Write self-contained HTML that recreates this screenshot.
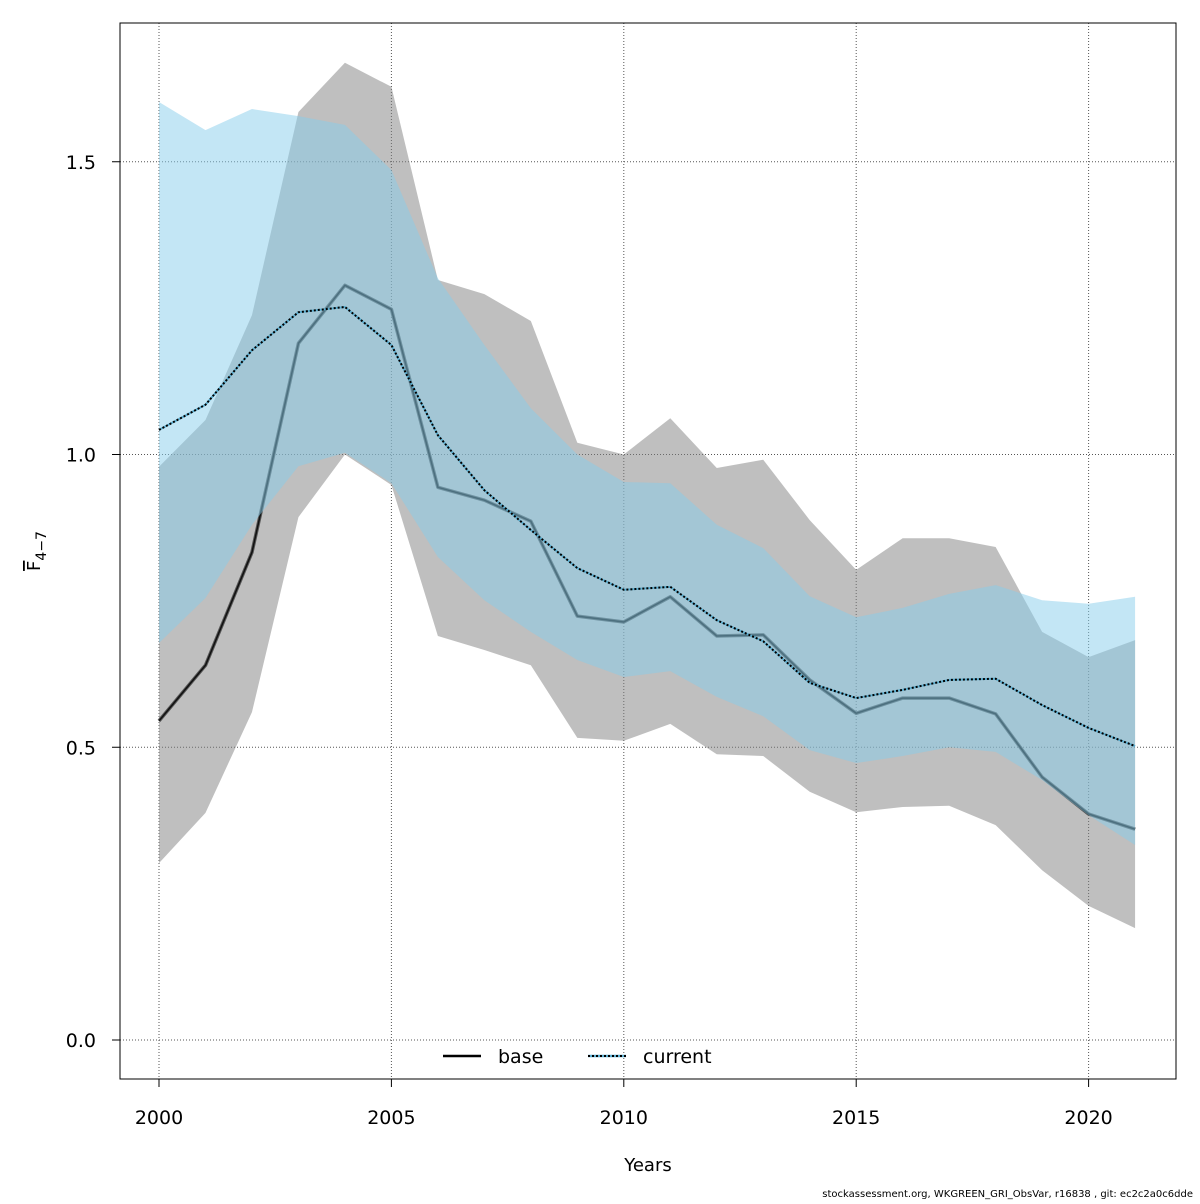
<!DOCTYPE html>
<html><head><meta charset="utf-8"><style>
body{margin:0;background:#fff;font-family:"DejaVu Sans","Liberation Sans",sans-serif}
svg text{font-family:"DejaVu Sans","Liberation Sans",sans-serif}
</style></head><body>
<svg id="chart" width="1200" height="1200" xmlns="http://www.w3.org/2000/svg">
<g id="grid"></g>
<g id="bands"></g>
<rect x="120" y="23" width="1056" height="1056" fill="none" stroke="#000" stroke-width="1"/>
<g id="axes"></g>
<text x="648" y="1171" font-size="18" text-anchor="middle">Years</text>
<text transform="translate(40,551) rotate(-90)" font-size="18" text-anchor="middle"><tspan text-decoration="overline">F</tspan><tspan font-size="14" dy="6">4−7</tspan></text>
<g>
<line x1="443" y1="1056" x2="481" y2="1056" stroke="#000" stroke-width="2.5"/>
<text x="498" y="1063" font-size="19">base</text>
<line x1="588" y1="1056" x2="626" y2="1056" stroke="#5aaed0" stroke-width="2.5"/>
<line x1="588" y1="1056" x2="626" y2="1056" stroke="#000" stroke-width="2" stroke-dasharray="2,2"/>
<text x="643" y="1063" font-size="19">current</text>
</g>
<text x="1193" y="1197" font-size="10" text-anchor="end">stockassessment.org, WKGREEN_GRI_ObsVar, r16838 , git: ec2c2a0c6dde</text>
</svg>
<script>
const years=[2000,2001,2002,2003,2004,2005,2006,2007,2008,2009,2010,2011,2012,2013,2014,2015,2016,2017,2018,2019,2020,2021];
const baseVals=[0.545,0.64,0.833,1.19,1.289,1.248,0.944,0.922,0.886,0.724,0.714,0.757,0.69,0.692,0.615,0.558,0.584,0.584,0.557,0.449,0.386,0.36];
const baseHigh=[0.979,1.059,1.238,1.585,1.669,1.628,1.298,1.274,1.228,1.02,1.0,1.062,0.977,0.991,0.888,0.803,0.857,0.857,0.842,0.697,0.654,0.683];
const baseLow=[0.302,0.388,0.56,0.893,1.0,0.948,0.69,0.666,0.64,0.516,0.511,0.54,0.488,0.485,0.424,0.389,0.398,0.4,0.367,0.29,0.229,0.191];
const curVals=[1.042,1.085,1.178,1.243,1.252,1.187,1.033,0.939,0.871,0.806,0.769,0.774,0.717,0.681,0.61,0.584,0.598,0.615,0.617,0.572,0.533,0.502];
const curHigh=[1.602,1.554,1.59,1.578,1.563,1.486,1.301,1.187,1.079,1.0,0.953,0.951,0.88,0.84,0.758,0.722,0.738,0.762,0.777,0.751,0.745,0.757];
const curLow=[0.678,0.755,0.88,0.98,1.003,0.951,0.825,0.751,0.697,0.649,0.62,0.63,0.586,0.553,0.495,0.473,0.485,0.5,0.492,0.444,0.384,0.333];
const xTicks=[2000,2005,2010,2015,2020];
const yTicks=[0,0.5,1.0,1.5];
const yTickLabels=["0.0","0.5","1.0","1.5"];
const X=v=>159+(v-2000)*46.48;
const Y=v=>1040-v*585.5;
const NS="http://www.w3.org/2000/svg";
function mk(tag,parent,attrs){const e=document.createElementNS(NS,tag);for(const k in attrs)e.setAttribute(k,attrs[k]);parent.appendChild(e);return e;}
const grid=document.getElementById('grid'),bands=document.getElementById('bands'),axes=document.getElementById('axes');
xTicks.forEach(t=>{const l=mk('line',grid,{x1:X(t),x2:X(t),y1:23,y2:1079,stroke:'#555','stroke-dasharray':'1,2'});


mk('line',axes,{x1:X(t),x2:X(t),y1:1079,y2:1087,stroke:'#000'});
const tx=mk('text',axes,{x:X(t),y:1124,'font-size':19,'text-anchor':'middle'});tx.textContent=t;

});
yTicks.forEach((t,i)=>{const l=mk('line',grid,{x1:120,x2:1176,y1:Y(t),y2:Y(t),stroke:'#555','stroke-dasharray':'1,2'});


mk('line',axes,{x1:112,x2:120,y1:Y(t),y2:Y(t),stroke:'#000'});
const tx=mk('text',axes,{x:96,y:Y(t)+7,'font-size':19,'text-anchor':'end'});tx.textContent=yTickLabels[i];

});
function band(hi,lo,fill,name){const pts=years.map((y,i)=>X(y)+','+Y(hi[i])).concat(years.map((y,i)=>X(y)+','+Y(lo[i])).reverse());
const p=mk('polygon',bands,{points:pts.join(' '),fill:fill,stroke:'none'});

}
function line(vals,attrs,name){const p=mk('polyline',bands,Object.assign({points:years.map((y,i)=>X(y)+','+Y(vals[i])).join(' '),fill:'none','stroke-linejoin':'round'},attrs));

}
band(baseHigh,baseLow,'rgba(128,128,128,0.5)','base-confidence-band');
line(baseVals,{stroke:'#555','stroke-width':3.5},'base-line-halo');
line(baseVals,{stroke:'#111','stroke-width':1.5},'base-line');
band(curHigh,curLow,'rgba(135,206,235,0.5)','current-confidence-band');
line(curVals,{stroke:'#5aaed0','stroke-width':2},'current-line-under');
line(curVals,{stroke:'#000','stroke-width':2,'stroke-dasharray':'2,2'},'current-line');
</script>
</body></html>
